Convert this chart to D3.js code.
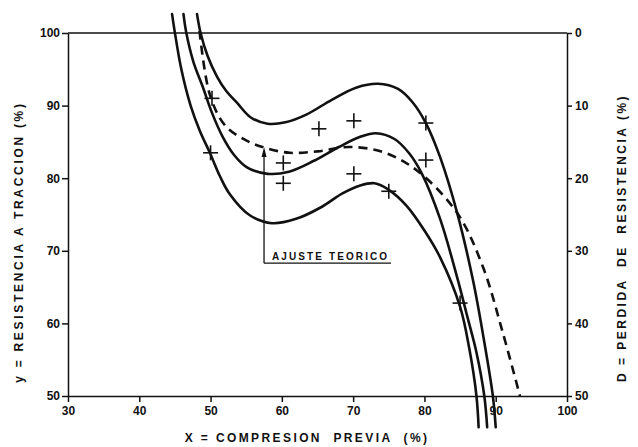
<!DOCTYPE html>
<html>
<head>
<meta charset="utf-8">
<script src="https://cdn.jsdelivr.net/npm/d3@7/dist/d3.min.js"></script>
<style>
  html, body { margin: 0; padding: 0; background: #fff; }
  svg { display: block; }
  text { font-family: "Liberation Sans", Arial, sans-serif; fill: #111; }
</style>
</head>
<body>
<svg id="chart" width="638" height="447"></svg>
<script>
// Tick values
const xTicks = [30, 40, 50, 60, 70, 80, 90, 100];
const yTicks = [50, 60, 70, 80, 90, 100];
const dTicks = [0, 10, 20, 30, 40, 50];

// Measured points (X = compresion previa %, y = resistencia %)
const pointsX = [50.2, 50.0, 60.2, 60.2, 65.2, 70.1, 70.1, 75.0, 80.2, 80.2, 85.0];
const pointsY = [91.0, 83.5, 82.1, 79.3, 86.8, 87.9, 80.6, 78.2, 87.6, 82.5, 62.8];

// Fitted curve and its band (upper / lower limits)
const fitX   = [46.2, 46.6, 47.6, 48.9, 50.2, 51.7, 53.3, 55.1, 58.0, 61.0, 64.5, 68.0, 71.0, 73.2, 75.8, 77.8, 79.6, 82.2, 84.6, 86.0, 87.3, 88.4, 88.8];
const fitY   = [102.6, 100, 96.0, 92.6, 89.0, 85.7, 83.2, 81.5, 80.6, 80.9, 82.4, 84.3, 85.7, 86.2, 85.4, 83.5, 80.7, 74.4, 66.3, 61.0, 56.0, 50, 45.7];
const upperX = [48.1, 48.6, 49.6, 50.9, 52.2, 53.7, 55.6, 58.0, 60.5, 63.5, 67.0, 70.5, 73.5, 76.3, 78.3, 80.2, 82.2, 84.6, 86.8, 88.3, 89.6, 90.0];
const upperY = [102.6, 100, 96.8, 94.0, 92.0, 90.4, 88.4, 87.5, 87.7, 88.8, 90.8, 92.5, 93.0, 92.3, 90.5, 87.6, 82.9, 75.2, 66.0, 58.0, 50, 45.7];
const lowerX = [44.6, 45.0, 45.9, 47.2, 48.5, 49.9, 51.3, 52.7, 55.5, 58.6, 62.0, 65.5, 68.5, 71.0, 73.0, 75.0, 77.5, 80.0, 82.2, 85.0, 86.3, 87.3, 87.6];
const lowerY = [102.6, 100, 95.0, 90.0, 86.5, 83.5, 80.3, 77.8, 74.9, 73.8, 74.4, 76.0, 77.9, 79.0, 79.3, 78.4, 76.2, 72.8, 69.1, 62.3, 56.5, 50, 45.7];

// Theoretical fit (dashed)
const theoX = [48.45, 49.9, 52.0, 54.8, 57.6, 61.1, 65.0, 69.5, 74.2, 78.9, 84.6, 88.2, 91.0, 93.4];
const theoY = [100.3, 91.5, 87.3, 85.3, 84.2, 83.5, 83.7, 84.3, 83.6, 81.1, 75.2, 67.8, 58.7, 50.0];

// Annotation: arrow pointing at the theoretical curve
const noteLabel = "AJUSTE TEORICO";
const noteArrowX = 57.5, noteArrowTipY = 84.3, noteBaseY = 68.3, noteEndX = 75.3;

const svg = d3.select("#chart");
const mLeft = 68, mRight = 567, mTop = 33, mBottom = 396;

const x = d3.scaleLinear().domain([30, 100]).range([mLeft, mRight]);
const y = d3.scaleLinear().domain([50, 100]).range([mBottom, mTop]);
const d = d3.scaleLinear().domain([0, 50]).range([mTop, mBottom]);

const ink = "#111";

// Top border
svg.append("line").attr("x1", mLeft).attr("x2", mRight).attr("y1", mTop).attr("y2", mTop)
  .attr("stroke", ink).attr("stroke-width", 1.5);

function styleAxis(g) {
  g.selectAll(".domain").attr("stroke", ink).attr("stroke-width", 1.5);
  g.selectAll(".tick line").attr("stroke", ink).attr("stroke-width", 1.5);
  g.selectAll(".tick text").attr("font-size", 12).attr("font-weight", "bold")
    .attr("font-family", "'Liberation Sans', Arial, sans-serif").attr("fill", ink);
}

svg.append("g").attr("transform", `translate(0,${mBottom})`)
  .call(d3.axisBottom(x).tickValues(xTicks).tickSize(6).tickSizeOuter(0).tickPadding(4))
  .call(styleAxis);

svg.append("g").attr("transform", `translate(${mLeft},0)`)
  .call(d3.axisLeft(y).tickValues(yTicks).tickSize(6).tickSizeOuter(0).tickPadding(2))
  .call(styleAxis);

svg.append("g").attr("transform", `translate(${mRight},0)`)
  .call(d3.axisRight(d).tickValues(dTicks).tickSize(5).tickSizeOuter(0).tickPadding(3))
  .call(styleAxis);

// Axis titles
svg.append("text").attr("x", 307).attr("y", 442)
  .attr("text-anchor", "middle").attr("font-size", 12).attr("font-weight", "bold")
  .attr("letter-spacing", 2.4).style("white-space", "pre")
  .text("X = COMPRESION  PREVIA  (%)");

svg.append("text").attr("transform", "translate(22.5,242) rotate(-90)")
  .attr("text-anchor", "middle").attr("font-size", 12).attr("font-weight", "bold")
  .attr("letter-spacing", 2.7).style("white-space", "pre")
  .text("y = RESISTENCIA A TRACCION (%)");

svg.append("text").attr("transform", "translate(625.5,238) rotate(-90)")
  .attr("text-anchor", "middle").attr("font-size", 12).attr("font-weight", "bold")
  .attr("letter-spacing", 2.5).style("white-space", "pre")
  .text("D = PERDIDA  DE  RESISTENCIA (%)");

// Curves
const line = d3.line().x(p => x(p[0])).y(p => y(p[1])).curve(d3.curveCatmullRom.alpha(0.5));
const zip = (a, b) => a.map((v, i) => [v, b[i]]);

[[upperX, upperY], [fitX, fitY], [lowerX, lowerY]].forEach(([xs, ys]) => {
  svg.append("path").datum(zip(xs, ys)).attr("d", line)
    .attr("fill", "none").attr("stroke", ink).attr("stroke-width", 2.6)
    .attr("stroke-linecap", "round");
});

svg.append("path").datum(zip(theoX, theoY)).attr("d", line)
  .attr("fill", "none").attr("stroke", ink).attr("stroke-width", 2.6)
  .attr("stroke-dasharray", "9,6");

// Measured points as crosses
const arm = 7.5;
const crosses = svg.append("g").attr("stroke", ink).attr("stroke-width", 1.6);
zip(pointsX, pointsY).forEach(([px, py]) => {
  crosses.append("line").attr("x1", x(px) - arm).attr("x2", x(px) + arm)
    .attr("y1", y(py)).attr("y2", y(py));
  crosses.append("line").attr("x1", x(px)).attr("x2", x(px))
    .attr("y1", y(py) - arm).attr("y2", y(py) + arm);
});

// Annotation arrow + underlined label
const ax = x(noteArrowX);
svg.append("line").attr("x1", ax).attr("x2", ax)
  .attr("y1", y(noteBaseY)).attr("y2", y(noteArrowTipY) + 8)
  .attr("stroke", ink).attr("stroke-width", 1.3);
svg.append("path")
  .attr("d", `M${ax},${y(noteArrowTipY)} L${ax - 2.5},${y(noteArrowTipY) + 10} L${ax + 2.5},${y(noteArrowTipY) + 10} Z`)
  .attr("fill", ink);
svg.append("line").attr("x1", ax).attr("x2", x(noteEndX))
  .attr("y1", y(noteBaseY)).attr("y2", y(noteBaseY))
  .attr("stroke", ink).attr("stroke-width", 1.3);
svg.append("text").attr("x", ax + 8).attr("y", y(noteBaseY) - 3)
  .attr("font-size", 10).attr("font-weight", "bold").attr("letter-spacing", 2.1)
  .text(noteLabel);
</script>
</body>
</html>
